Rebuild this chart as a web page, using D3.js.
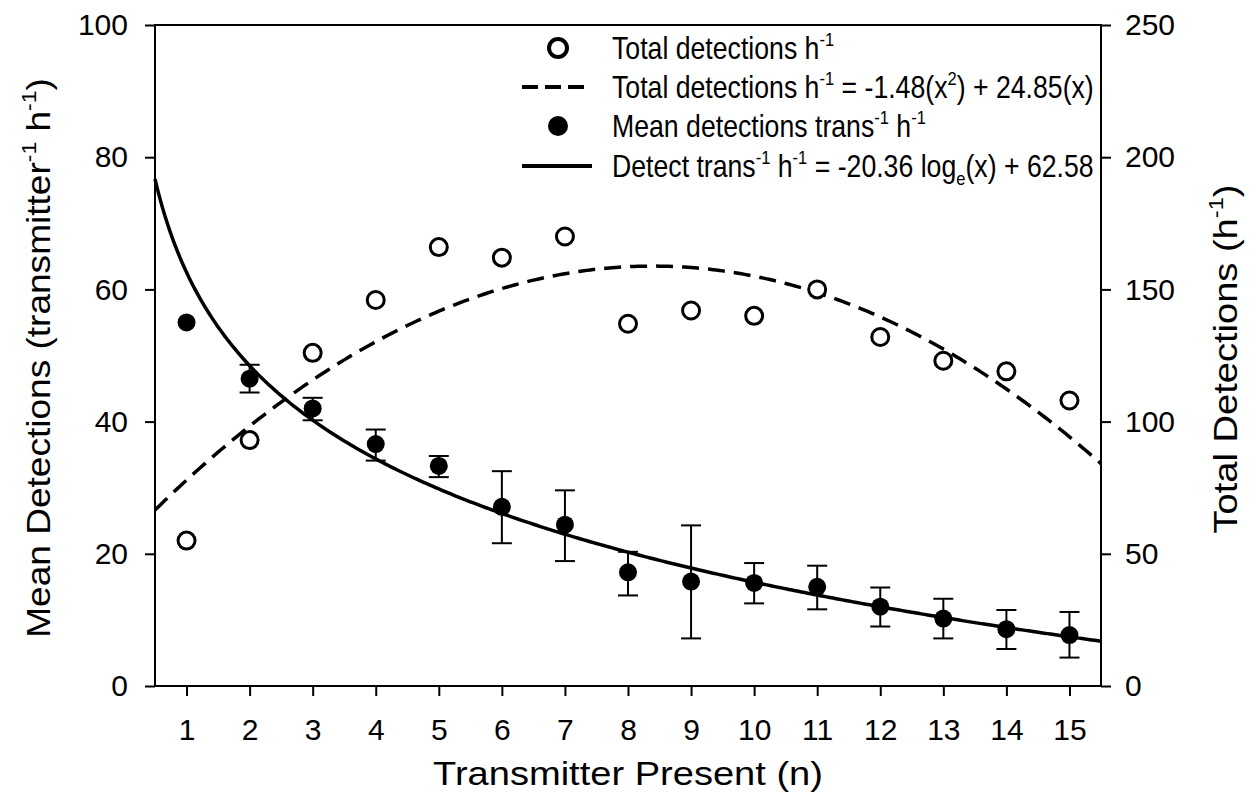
<!DOCTYPE html>
<html>
<head>
<meta charset="utf-8">
<script src="https://cdn.jsdelivr.net/npm/d3@7"></script>
<style>
  html, body { margin: 0; padding: 0; background: #fff; }
  svg { display: block; font-family: "Liberation Sans", Arial, sans-serif; }
</style>
</head>
<body>
<svg id="chart" width="1257" height="808"></svg>
<script>
// ---------------- data ----------------
const transmittersPresent = [1, 2, 3, 4, 5, 6, 7, 8, 9, 10, 11, 12, 13, 14, 15];
// Total detections per hour (right axis)
const totalDetections = [55, 93, 126, 146, 166, 162, 170, 137, 142, 140, 150, 132, 123, 119, 108];
// Mean detections per transmitter per hour (left axis) with error bar ends
const meanDetections = [55.0, 46.5, 42.0, 36.6, 33.3, 27.1, 24.4, 17.2, 15.8, 15.6, 15.0, 12.0, 10.2, 8.6, 7.7];
const meanUpper      = [55.0, 48.6, 43.6, 38.8, 34.8, 32.5, 29.6, 20.3, 24.3, 18.6, 18.2, 14.9, 13.2, 11.5, 11.2];
const meanLower      = [55.0, 44.4, 40.2, 34.1, 31.6, 21.6, 18.9, 13.7,  7.2, 12.5, 11.6,  9.0,  7.2,  5.6,  4.3];
// fitted curve coefficients
const quadFit = [54.5, 24.85, -1.48];   // c0 + c1*x + c2*x^2 (right axis)
const logFit  = [62.58, -20.36];        // b + a*ln(x)          (left axis)
// axis ticks
const xTickValues = [1, 2, 3, 4, 5, 6, 7, 8, 9, 10, 11, 12, 13, 14, 15];
const leftTickValues = [0, 20, 40, 60, 80, 100];
const rightTickValues = [0, 50, 100, 150, 200, 250];
const xDomain = [0.5, 15.5];

// ---------------- layout ----------------
const L = 155, R = 1101, T = 25, B = 686;
const svg = d3.select("#chart");
const x = d3.scaleLinear().domain(xDomain).range([L, R]);
const yL = d3.scaleLinear().domain([0, 100]).range([B, T]);
const yR = d3.scaleLinear().domain([0, 250]).range([B, T]);

// rich text helper: segments [text, kind]
function rich(sel, segs) {
  let off = 0;
  segs.forEach(([t, k]) => {
    const ts = sel.append("tspan").text(t);
    let target = 0;
    if (k === "sup") { ts.attr("font-size", "0.62em"); target = -0.42; }
    if (k === "sub") { ts.attr("font-size", "0.62em"); target = 0.25; }
    // dy in absolute px relative to parent font size
    const fs = parseFloat(sel.attr("font-size"));
    const d = (target - off) * fs;
    if (d !== 0) ts.attr("dy", d);
    off = target;
  });
}

// ---------------- axes ----------------
const axStyle = g => {
  g.select(".domain").remove();
  g.selectAll(".tick line").attr("stroke", "#000").attr("stroke-width", 2);
  g.selectAll(".tick text").attr("fill", "#000").attr("font-size", 30)
    .attr("font-family", "Liberation Sans, Arial, sans-serif");
};
svg.append("g").attr("transform", `translate(${L},0)`)
  .call(d3.axisLeft(yL).tickValues(leftTickValues).tickSize(10).tickPadding(17).tickFormat(d3.format("d")))
  .call(axStyle);
svg.append("g").attr("transform", `translate(${R},0)`)
  .call(d3.axisRight(yR).tickValues(rightTickValues).tickSize(10).tickPadding(14).tickFormat(d3.format("d")))
  .call(axStyle);
svg.append("g").attr("transform", `translate(0,${B})`)
  .call(d3.axisBottom(x).tickValues(xTickValues).tickSize(10).tickPadding(23).tickFormat(d3.format("d")))
  .call(axStyle);

// frame
svg.append("rect").attr("x", L).attr("y", T).attr("width", R - L).attr("height", B - T)
  .attr("fill", "none").attr("stroke", "#000").attr("stroke-width", 2);

// ---------------- curves ----------------
const xs = d3.range(xDomain[0], xDomain[1] + 1e-9, 0.05);
const quadLine = d3.line().x(d => x(d)).y(d => yR(quadFit[0] + quadFit[1] * d + quadFit[2] * d * d));
const logLine = d3.line().x(d => x(d)).y(d => yL(logFit[0] + logFit[1] * Math.log(d)));
svg.append("path").attr("d", quadLine(xs)).attr("fill", "none").attr("stroke", "#000")
  .attr("stroke-width", 3.5).attr("stroke-dasharray", "17,9");
svg.append("path").attr("d", logLine(xs)).attr("fill", "none").attr("stroke", "#000")
  .attr("stroke-width", 3.5);

// ---------------- error bars ----------------
const eb = svg.append("g").attr("stroke", "#000").attr("stroke-width", 2);
transmittersPresent.forEach((n, i) => {
  if (meanUpper[i] === meanLower[i]) return;
  const cx = x(n);
  eb.append("line").attr("x1", cx).attr("x2", cx).attr("y1", yL(meanUpper[i])).attr("y2", yL(meanLower[i]));
  eb.append("line").attr("x1", cx - 10).attr("x2", cx + 10).attr("y1", yL(meanUpper[i])).attr("y2", yL(meanUpper[i]));
  eb.append("line").attr("x1", cx - 10).attr("x2", cx + 10).attr("y1", yL(meanLower[i])).attr("y2", yL(meanLower[i]));
});

// ---------------- points ----------------
svg.append("g").selectAll("circle").data(transmittersPresent).join("circle")
  .attr("cx", d => x(d)).attr("cy", (d, i) => yL(meanDetections[i])).attr("r", 9).attr("fill", "#000");
svg.append("g").selectAll("circle").data(transmittersPresent).join("circle")
  .attr("cx", d => x(d)).attr("cy", (d, i) => yR(totalDetections[i])).attr("r", 8.5)
  .attr("fill", "#fff").attr("stroke", "#000").attr("stroke-width", 3);

// ---------------- titles ----------------
function title(cx, cy, rot, sx, segs) {
  const g = svg.append("g").attr("transform", `translate(${cx},${cy}) rotate(${rot}) scale(${sx},1)`);
  const t = g.append("text").attr("text-anchor", "middle").attr("font-size", 34).attr("fill", "#000");
  rich(t, segs);
}
title(628, 785, 0, 1.12, [["Transmitter Present (n)"]]);
title(50, 358, -90, 1.09, [["Mean Detections (transmitter"], ["-1", "sup"], [" h"], ["-1", "sup"], [")"]]);
title(1237, 359, -90, 1.12, [["Total Detections (h"], ["-1", "sup"], [")"]]);

// ---------------- legend ----------------
const rows = [48, 87, 126, 166];
const lg = svg.append("g");
lg.append("circle").attr("cx", 558).attr("cy", rows[0]).attr("r", 9).attr("fill", "#fff")
  .attr("stroke", "#000").attr("stroke-width", 4);
lg.append("line").attr("x1", 522).attr("x2", 585).attr("y1", rows[1]).attr("y2", rows[1])
  .attr("stroke", "#000").attr("stroke-width", 4).attr("stroke-dasharray", "16,7");
lg.append("circle").attr("cx", 558).attr("cy", rows[2]).attr("r", 10).attr("fill", "#000");
lg.append("line").attr("x1", 522).attr("x2", 592).attr("y1", rows[3]).attr("y2", rows[3])
  .attr("stroke", "#000").attr("stroke-width", 4);
const legendTexts = [
  [["Total detections h"], ["-1", "sup"]],
  [["Total detections h"], ["-1", "sup"], [" = -1.48(x"], ["2", "sup"], [") + 24.85(x)"]],
  [["Mean detections trans"], ["-1", "sup"], [" h"], ["-1", "sup"]],
  [["Detect trans"], ["-1", "sup"], [" h"], ["-1", "sup"], [" = -20.36 log"], ["e", "sub"], ["(x) + 62.58"]]
];
legendTexts.forEach((segs, i) => {
  const g = lg.append("g").attr("transform", `translate(612,${rows[i] + 11}) scale(0.86,1)`);
  const t = g.append("text").attr("font-size", 31).attr("fill", "#000");
  rich(t, segs);
});
</script>
</body>
</html>
